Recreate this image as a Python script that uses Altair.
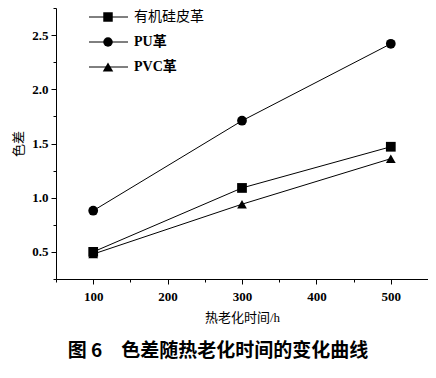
import altair as alt
import pandas as pd

hours = [100, 300, 500]
series = ["有机硅皮革", "PU革", "PVC革"]
silicone = [0.50, 1.09, 1.47]
pu = [0.88, 1.71, 2.42]
pvc = [0.48, 0.94, 1.36]
shapes = ["square", "circle", "triangle-up"]
legend_bold = [False, True, True]

rows = []
for name, vals in zip(series, [silicone, pu, pvc]):
    for h, v in zip(hours, vals):
        rows.append({"h": h, "v": v, "s": name})
df = pd.DataFrame(rows)

serif = "Liberation Serif, Noto Sans CJK SC"

x = alt.X("h:Q", scale=alt.Scale(domain=[50, 550], nice=False),
          axis=alt.Axis(values=[50, 100, 150, 200, 250, 300, 350, 400, 450, 500, 550],
                        labelExpr="datum.value % 100 == 0 && datum.value < 550 && datum.value > 50 ? datum.label : ''",
                        tickSize={"condition": {"test": "datum.value % 100 == 0", "value": 5}, "value": 3},
                        title="热老化时间/h", grid=False))
y = alt.Y("v:Q", scale=alt.Scale(domain=[0.25, 2.75], nice=False),
          axis=alt.Axis(values=[0.25, 0.5, 0.75, 1.0, 1.25, 1.5, 1.75, 2.0, 2.25, 2.5, 2.75],
                        labelExpr="(datum.value * 2) % 1 == 0 ? format(datum.value, '.1f') : ''",
                        tickSize={"condition": {"test": "(datum.value * 2) % 1 == 0", "value": 5}, "value": 3},
                        title="色差", grid=False))

shape_scale = alt.Scale(domain=series, range=shapes)

lines = alt.Chart(df).mark_line(color="black", strokeWidth=1).encode(
    x=x, y=y, detail="s:N")
points = alt.Chart(df).mark_point(filled=True, color="black", opacity=1, size=95).encode(
    x=x, y=y, shape=alt.Shape("s:N", scale=shape_scale, legend=None))

layers = [lines, points]
for i, (name, shp, bold) in enumerate(zip(series, shapes, legend_bold)):
    yy = 9 + 25 * i
    ldf = pd.DataFrame({"s": [name]})
    layers.append(alt.Chart(ldf).mark_rule(color="black", strokeWidth=1).encode(
        x=alt.value(33), x2=alt.value(72), y=alt.value(yy)))
    layers.append(alt.Chart(ldf).mark_point(shape=shp, filled=True, color="black", opacity=1,
                                            size=110 if shp == "triangle-up" else 90).encode(
        x=alt.value(52), y=alt.value(yy)))
    layers.append(alt.Chart(ldf).mark_text(align="left", baseline="middle", fontSize=14,
                                           font=serif, fontWeight="bold" if bold else "normal",
                                           color="black").encode(
        x=alt.value(78), y=alt.value(yy), text="s:N"))

chart = alt.layer(*layers).properties(
    width=372, height=271,
    autosize=alt.AutoSizeParams(type="none"),
    padding={"left": 48, "top": 0, "right": 0, "bottom": 85},
    title=alt.TitleParams("图 6\u2003色差随热老化时间的变化曲线", orient="bottom", anchor="middle",
                          font="Noto Sans CJK SC", fontSize=19, fontWeight="bold", offset=18,
                          dx=-24, color="black"),
).configure_view(stroke=None).configure_axis(
    domainColor="black", tickColor="black", labelColor="black", titleColor="black",
    labelFont="Liberation Serif", labelFontSize=13, labelFontWeight="bold",
    titleFont=serif, titleFontSize=13, titleFontWeight="normal", domainWidth=1,
).configure_axisX(labelPadding=6, titlePadding=8).configure_axisY(labelPadding=3, titlePadding=6)

chart.save("out.html", embed_options={"renderer": "svg", "actions": False})
